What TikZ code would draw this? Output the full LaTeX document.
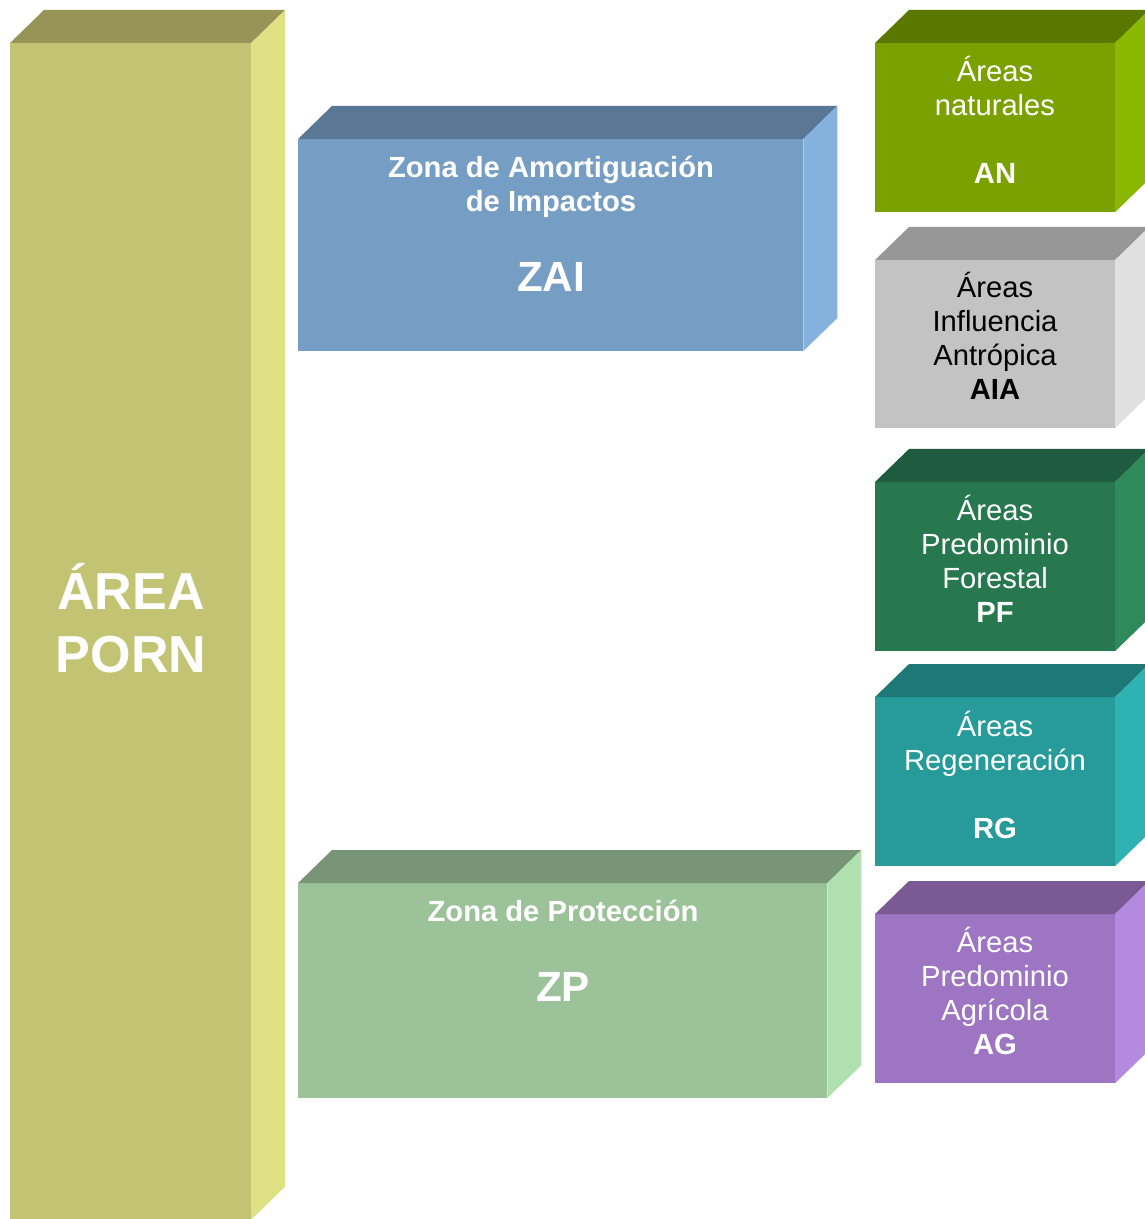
\documentclass[tikz,border=0pt]{standalone}
\usepackage{fontspec}
\setmainfont{Liberation Sans}
\usetikzlibrary{calc}
\definecolor{pornF}{HTML}{C2C474}
\definecolor{pornT}{HTML}{979457}
\definecolor{pornS}{HTML}{E0E085}
\definecolor{zaiF}{HTML}{769DC4}
\definecolor{zaiT}{HTML}{5A7895}
\definecolor{zaiS}{HTML}{85B1DE}
\definecolor{zpF}{HTML}{9CC29A}
\definecolor{zpT}{HTML}{789677}
\definecolor{zpS}{HTML}{B0DFB0}
\definecolor{anF}{HTML}{7BA100}
\definecolor{anT}{HTML}{5A7800}
\definecolor{anS}{HTML}{8AB800}
\definecolor{aiaF}{HTML}{C3C3C3}
\definecolor{aiaT}{HTML}{979797}
\definecolor{aiaS}{HTML}{E0E0E0}
\definecolor{pfF}{HTML}{27784E}
\definecolor{pfT}{HTML}{1F5B3E}
\definecolor{pfS}{HTML}{2E8A5B}
\definecolor{rgF}{HTML}{279A9A}
\definecolor{rgT}{HTML}{1F7878}
\definecolor{rgS}{HTML}{2EB2B2}
\definecolor{agF}{HTML}{9D75C3}
\definecolor{agT}{HTML}{7B5995}
\definecolor{agS}{HTML}{B38AE0}
\tikzset{face/.style={inner sep=0pt,outer sep=0pt,anchor=north west,fill=#1},
        area/.style={align=center,text=white,font=\fontsize{8.3}{9.7}\selectfont},
        zona/.style={align=center,text=white,font=\bfseries\fontsize{8.3}{9.7}\selectfont},
        sigla/.style={text=white,font=\bfseries\fontsize{12}{14}\selectfont}
        }
% 画一个盒子的顶面和侧面: #1 正面节点, #2 顶面颜色, #3 侧面颜色
\newcommand{\caras}[3]{%
    \fill[#2] (#1.north west) -- ++(34,-33) -- ($(#1.north east)+(34,-33)$) -- (#1.north east) -- cycle;
    \fill[#3] (#1.north east) -- ($(#1.north east)+(34,-33)$) -- ($(#1.south east)+(34,-33)$) -- (#1.south east) -- cycle;}
\begin{document}
\begin{tikzpicture}[x=0.01cm,y=-0.01cm]
    \useasboundingbox (0,0) rectangle (1144,1219);
    % 左边的大盒子 AREA PORN
    \node[face=pornF,minimum width=2.41cm,minimum height=11.76cm] (porn) at (10,43) {};
    \caras{porn}{pornT}{pornS}
    \node[text=white,align=center,font=\bfseries\fontsize{14.8}{17.9}\selectfont] (pornt) at (131,618) {ÁREA\\PORN};
    % 中间的两个盒子 ZAI 和 ZP
    \node[face=zaiF,minimum width=5.05cm,minimum height=2.12cm] (zai) at (298,139) {};
    \caras{zai}{zaiT}{zaiS}
    \node[zona] (zait) at (551,187) {Zona de Amortiguación\\de Impactos};
    \node[sigla] (zais) at (551,277) {ZAI};
    \node[face=zpF,minimum width=5.29cm,minimum height=2.15cm] (zp) at (298,883) {};
    \caras{zp}{zpT}{zpS}
    \node[zona] (zpt) at (563,911) {Zona de Protección};
    \node[sigla] (zps) at (563,987) {ZP};
    % 右边的五个盒子
    \node[face=anF,minimum width=2.4cm,minimum height=1.69cm] (an) at (875,43) {};
    \caras{an}{anT}{anS}
    \node[area] (ant) at (995,120) {Áreas\\naturales\\[9.7pt]\textbf{AN}};
    \node[face=aiaF,minimum width=2.4cm,minimum height=1.68cm] (aia) at (875,260) {};
    \caras{aia}{aiaT}{aiaS}
    \node[area,text=black] (aiat) at (995,336) {Áreas\\Influencia\\Antrópica\\\textbf{AIA}};
    \node[face=pfF,minimum width=2.4cm,minimum height=1.69cm] (pf) at (875,482) {};
    \caras{pf}{pfT}{pfS}
    \node[area] (pft) at (995,559) {Áreas\\Predominio\\Forestal\\\textbf{PF}};
    \node[face=rgF,minimum width=2.4cm,minimum height=1.69cm] (rg) at (875,697) {};
    \caras{rg}{rgT}{rgS}
    \node[area] (rgt) at (995,775) {Áreas\\Regeneración\\[9.7pt]\textbf{RG}};
    \node[face=agF,minimum width=2.4cm,minimum height=1.69cm] (ag) at (875,914) {};
    \caras{ag}{agT}{agS}
    \node[area] (agt) at (995,991) {Áreas\\Predominio\\Agrícola\\\textbf{AG}};
\end{tikzpicture}
\end{document}
